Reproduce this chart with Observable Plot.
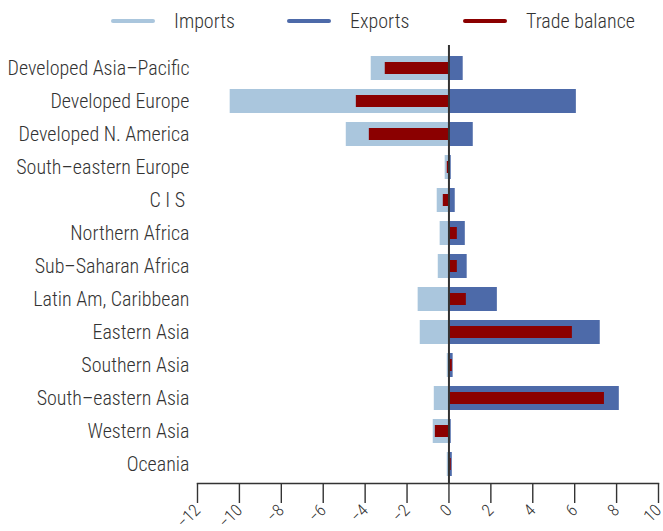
<!DOCTYPE html>
<html>
<head>
<meta charset="utf-8">
<script src="https://cdn.jsdelivr.net/npm/d3@7"></script>
<script src="https://cdn.jsdelivr.net/npm/@observablehq/plot@0.6"></script>
<style>
  html, body { margin: 0; padding: 0; background: #fff; }
  body { width: 663px; height: 531px; position: relative; overflow: hidden;
         font-family: "Roboto Condensed", "Liberation Sans Narrow", "DejaVu Sans Condensed", "Arial Narrow", sans-serif; }
  #legend { position: absolute; top: 8px; left: 111px; display: flex; align-items: center; color: #333; font-size: 20px; font-weight: 300; height: 26px; white-space: nowrap; }
  .item { display: flex; align-items: center; width: 176px; flex: none; }
  .item:last-child { width: auto; }
  .sw { width: 44px; height: 4px; border-radius: 2px; margin-right: 19px; flex: none; }
  #chart { position: absolute; top: 0; left: 0; }
</style>
</head>
<body>
<div id="chart"></div>
<div id="legend"></div>
<script>
const regions = [
  "Developed Asia–Pacific", "Developed Europe", "Developed N. America", "South–eastern Europe",
  "C I S\u00a0", "Northern Africa", "Sub–Saharan Africa", "Latin Am, Caribbean",
  "Eastern Asia", "Southern Asia", "South–eastern Asia", "Western Asia", "Oceania"
];
const imports = [-3.71, -10.44, -4.90, -0.18, -0.56, -0.42, -0.51, -1.47, -1.37, -0.08, -0.70, -0.75, -0.08];
const exports = [0.68, 6.08, 1.16, 0.11, 0.30, 0.78, 0.87, 2.31, 7.22, 0.20, 8.13, 0.11, 0.16];
const balance = [-3.04, -4.42, -3.80, -0.08, -0.27, 0.40, 0.40, 0.83, 5.89, 0.16, 7.42, -0.65, 0.11];
const xTicks = [-12, -10, -8, -6, -4, -2, 0, 2, 4, 6, 8, 10];
const seriesNames = ["Imports", "Exports", "Trade balance"];
const seriesColors = ["#aac6dd", "#4d6aa9", "#8b0000"];

const data = regions.map((r, i) => ({region: r, imports: imports[i], exports: exports[i], balance: balance[i]}));

const font = '"Roboto Condensed", "Liberation Sans Narrow", "DejaVu Sans Condensed", "Arial Narrow", sans-serif';

const chart = Plot.plot({
  width: 663,
  height: 531,
  marginLeft: 197,
  marginRight: 5,
  marginTop: 45,
  marginBottom: 48,
  style: {fontFamily: font, fontWeight: 300, color: "#333", background: "#fff"},
  x: {domain: [-12, 10], ticks: xTicks, label: null},
  y: {domain: regions, paddingInner: 0.2745, paddingOuter: 0.257, align: 0.59, label: null},
  marks: [
    Plot.barX(data, {x: "imports", y: "region", fill: seriesColors[0]}),
    Plot.barX(data, {x: "exports", y: "region", fill: seriesColors[1]}),
    Plot.barX(data, {x: "balance", y: "region", fill: seriesColors[2], insetTop: 6, insetBottom: 6}),
    Plot.ruleX([0], {stroke: "#333", strokeWidth: 2}),
    Plot.frame({anchor: "bottom", stroke: "#333", strokeWidth: 1.4}),
    Plot.axisX({ticks: xTicks, tickSize: 20, tickRotate: -45, tickPadding: 4, fontSize: 17, stroke: "#333", strokeWidth: 1.4, fill: "#333", label: null}),
    Plot.axisY({tickSize: 0, tickPadding: 8, fontSize: 20, fill: "#333", label: null})
  ]
});
document.getElementById("chart").appendChild(chart);

const legend = document.getElementById("legend");
seriesNames.forEach((name, i) => {
  const item = document.createElement("div");
  item.className = "item";
  const sw = document.createElement("div");
  sw.className = "sw";
  sw.style.background = seriesColors[i];
  const t = document.createElement("span");
  t.textContent = name;
  item.appendChild(sw);
  item.appendChild(t);
  legend.appendChild(item);
});
</script>
</body>
</html>
